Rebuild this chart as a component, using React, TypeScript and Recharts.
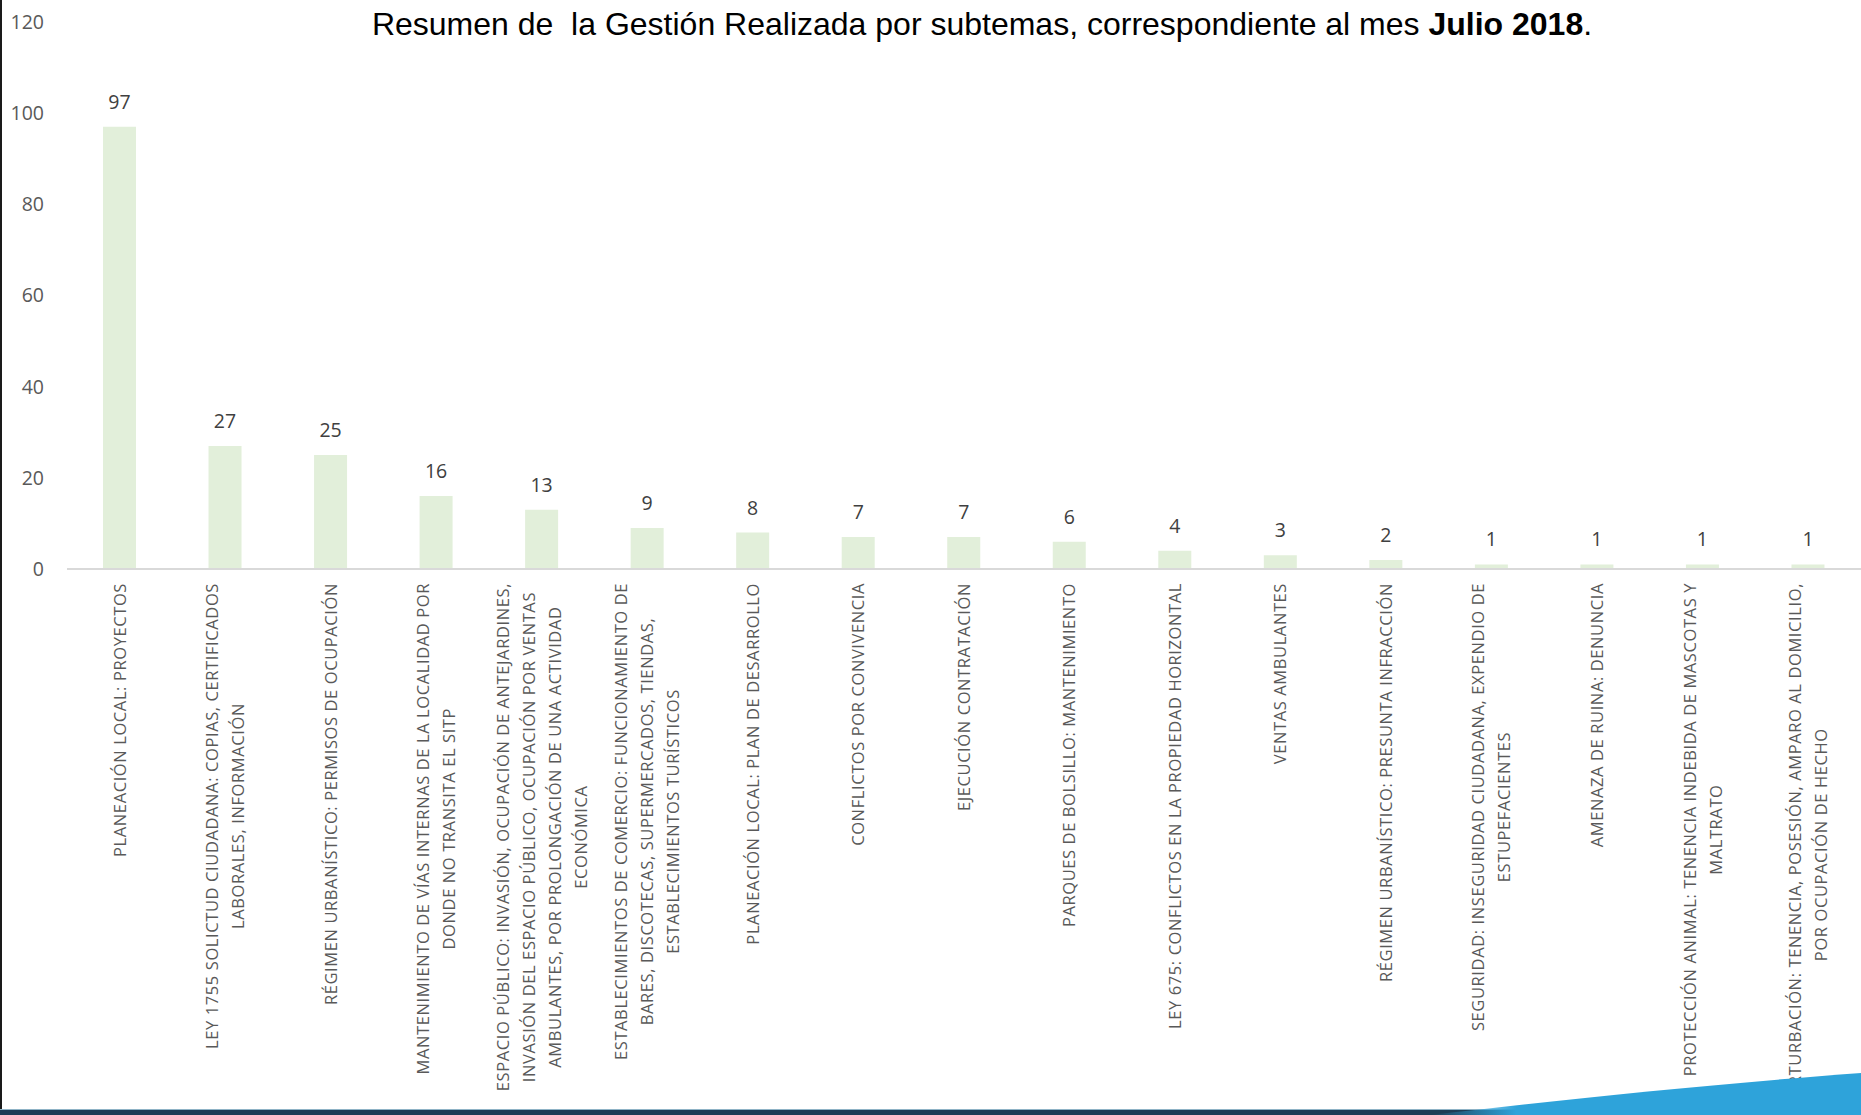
import React from 'react';
import { BarChart, Bar, XAxis, YAxis, LabelList } from 'recharts';

// subtemas, in the order shown (line breaks as in the original labels)
const categories = [
  'PLANEACIÓN LOCAL: PROYECTOS',
  'LEY 1755 SOLICTUD CIUDADANA: COPIAS, CERTIFICADOS\nLABORALES, INFORMACIÓN',
  'RÉGIMEN URBANÍSTICO: PERMISOS DE OCUPACIÓN',
  'MANTENIMIENTO DE VÍAS INTERNAS DE LA LOCALIDAD POR\nDONDE NO TRANSITA EL SITP',
  'ESPACIO PÚBLICO: INVASIÓN, OCUPACIÓN DE ANTEJARDINES,\nINVASIÓN DEL ESPACIO PÚBLICO, OCUPACIÓN POR VENTAS\nAMBULANTES, POR PROLONGACIÓN DE UNA ACTIVIDAD\nECONÓMICA',
  'ESTABLECIMIENTOS DE COMERCIO: FUNCIONAMIENTO DE\nBARES, DISCOTECAS, SUPERMERCADOS, TIENDAS,\nESTABLECIMIENTOS TURÍSTICOS',
  'PLANEACIÓN LOCAL: PLAN DE DESARROLLO',
  'CONFLICTOS POR CONVIVENCIA',
  'EJECUCIÓN CONTRATACIÓN',
  'PARQUES DE BOLSILLO: MANTENIMIENTO',
  'LEY 675: CONFLICTOS EN LA PROPIEDAD HORIZONTAL',
  'VENTAS AMBULANTES',
  'RÉGIMEN URBANÍSTICO: PRESUNTA INFRACCIÓN',
  'SEGURIDAD: INSEGURIDAD CIUDADANA, EXPENDIO DE\nESTUPEFACIENTES',
  'AMENAZA DE RUINA: DENUNCIA',
  'PROTECCIÓN ANIMAL: TENENCIA INDEBIDA DE MASCOTAS Y\nMALTRATO',
  'PERTURBACIÓN: TENENCIA, POSESIÓN, AMPARO AL DOMICILIO,\nPOR OCUPACIÓN DE HECHO',
];

const totals = [97, 27, 25, 16, 13, 9, 8, 7, 7, 6, 4, 3, 2, 1, 1, 1, 1];

const yTicks = [0, 20, 40, 60, 80, 100, 120];

const data = categories.map((name, i) => ({ name, total: totals[i] }));

const LABEL_FONT = '16.5px "Open Sans"';
const LABEL_SPACING = 0.6;
let ctx: CanvasRenderingContext2D | null = null;
function textWidth(s: string) {
  if (!ctx) ctx = document.createElement('canvas').getContext('2d');
  if (!ctx) return s.length * 10;
  ctx.font = LABEL_FONT;
  return ctx.measureText(s).width + s.length * LABEL_SPACING;
}

function CategoryTick(props: any) {
  const { x, y, payload } = props;
  const lines = String(payload.value).split('\n');
  const maxW = Math.max(...lines.map(textWidth));
  const lh = 26;
  const n = lines.length;
  return (
    <g transform={`translate(${x},${y + 14}) rotate(-90)`}>
      {lines.map((l, i) => (
        <text
          key={i}
          x={-maxW / 2}
          y={(i - (n - 1) / 2) * lh + 5.8}
          textAnchor="middle"
          fill="#595959"
          style={{ font: LABEL_FONT, letterSpacing: LABEL_SPACING }}
        >
          {l}
        </text>
      ))}
    </g>
  );
}

function ValueLabel(props: any) {
  const { x, y, width, value } = props;
  return (
    <text
      x={x + width / 2}
      y={y - 18}
      textAnchor="middle"
      fill="#404040"
      style={{ font: '19.5px "Open Sans"' }}
    >
      {value}
    </text>
  );
}

export default function App() {
  return (
    <div style={{ position: 'absolute', left: 0, top: 0, width: 1861, height: 1115, overflow: 'hidden', background: '#fff' }}>
      <BarChart width={1861} height={1115} data={data} margin={{ top: 22, right: 0, left: 0, bottom: 0 }}>
        <XAxis
          dataKey="name"
          interval={0}
          height={546}
          axisLine={{ stroke: '#d9d9d9', strokeWidth: 2 }}
          tickLine={false}
          tickSize={0}
          tickMargin={0}
          tick={<CategoryTick />}
        />
        <YAxis
          width={67}
          domain={[0, 120]}
          ticks={yTicks}
          axisLine={false}
          tickLine={false}
          tickSize={0}
          tickMargin={23}
          tick={{ fill: '#595959', fontSize: 19.5, fontFamily: 'Open Sans' }}
        />
        <Bar dataKey="total" fill="#E2EFDA" barSize={33} isAnimationActive={false}>
          <LabelList dataKey="total" content={<ValueLabel />} />
        </Bar>
      </BarChart>

      <svg width={1861} height={1115} style={{ position: 'absolute', left: 0, top: 0, pointerEvents: 'none' }}>
        <defs>
          <linearGradient id="wedge" x1="0" y1="0" x2="1" y2="0">
            <stop offset="0" stopColor="#2ea3da" stopOpacity="0" />
            <stop offset="0.2" stopColor="#2ea3da" stopOpacity="1" />
            <stop offset="1" stopColor="#2ea3da" />
          </linearGradient>
        </defs>
        <rect x={0} y={0} width={2} height={1110} fill="#1a1a1a" />
        <rect x={0} y={1109} width={1520} height={1} fill="#8fb3c6" />
        <rect x={0} y={1110} width={1520} height={5} fill="#1d3e55" />
        <path d="M1430,1115 C1560,1100 1700,1085 1861,1073 L1861,1115 Z" fill="url(#wedge)" />
        <text x={982} y={35} textAnchor="middle" fill="#000" style={{ font: '32px "Liberation Sans"' }}>
          <tspan>Resumen de {'\u00a0'}la Gestión Realizada por subtemas, correspondiente al mes </tspan>
          <tspan fontWeight="bold">Julio 2018</tspan>
          <tspan>.</tspan>
        </text>
      </svg>
    </div>
  );
}
